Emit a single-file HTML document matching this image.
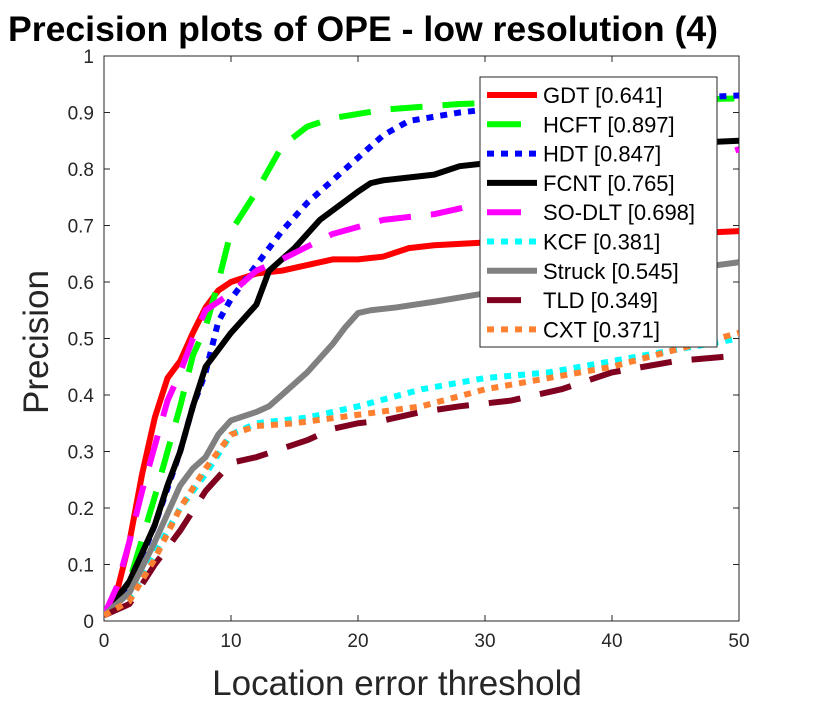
<!DOCTYPE html>
<html><head><meta charset="utf-8"><style>
html,body{margin:0;padding:0;background:#fff;}
svg{display:block;font-family:"Liberation Sans",sans-serif;}
</style></head><body>
<svg id="chart" width="830" height="705">
<text x="8" y="41" font-size="35" font-weight="bold" textLength="710" lengthAdjust="spacingAndGlyphs">Precision plots of OPE - low resolution (4)</text>
<text x="397" y="695" font-size="35" text-anchor="middle" fill="#262626">Location error threshold</text>
<text transform="translate(48,342) rotate(-90)" font-size="35" text-anchor="middle" fill="#262626">Precision</text>
<g id="plot"></g>
</svg>
<script>
const xTicks=[0,10,20,30,40,50];
const yTicks=[0,0.1,0.2,0.3,0.4,0.5,0.6,0.7,0.8,0.9,1];
const yTickLabels=["0","0.1","0.2","0.3","0.4","0.5","0.6","0.7","0.8","0.9","1"];
const names=["GDT [0.641]","HCFT [0.897]","HDT [0.847]","FCNT [0.765]","SO-DLT [0.698]","KCF [0.381]","Struck [0.545]","TLD [0.349]","CXT [0.371]"];
const gdtX=[0,1,2,3,4,5,6,7,8,9,10,12,14,16,18,20,22,24,26,30,35,40,45,50];
const gdtY=[0.01,0.05,0.14,0.26,0.36,0.43,0.46,0.51,0.555,0.585,0.6,0.615,0.62,0.63,0.64,0.64,0.645,0.66,0.665,0.67,0.675,0.68,0.685,0.69];
const hcftX=[0,2,4,6,7,8,9,10,12,14,16,18,22,28,35,40,50];
const hcftY=[0.01,0.07,0.22,0.38,0.47,0.52,0.6,0.69,0.76,0.84,0.875,0.89,0.905,0.915,0.92,0.92,0.925];
const hdtX=[0,2,4,6,7,8,9,10,12,14,16,18,20,22,24,28,32,40,50];
const hdtY=[0.01,0.06,0.17,0.3,0.38,0.44,0.53,0.57,0.63,0.69,0.74,0.78,0.82,0.86,0.885,0.9,0.91,0.92,0.93];
const fcntX=[0,2,4,5,6,7,8,10,12,13,15,17,20,21,22,24,26,28,30,35,40,45,50];
const fcntY=[0.01,0.07,0.17,0.24,0.3,0.38,0.45,0.51,0.56,0.62,0.66,0.71,0.76,0.775,0.78,0.785,0.79,0.805,0.81,0.82,0.83,0.845,0.85];
const sodltX=[0,1,2,3,4,5,6,7,8,10,12,14,18,22,26,30,35,40,45,50];
const sodltY=[0.01,0.06,0.14,0.23,0.31,0.39,0.44,0.5,0.55,0.58,0.62,0.64,0.685,0.71,0.72,0.74,0.75,0.77,0.8,0.835];
const kcfX=[0,2,4,6,8,10,12,14,16,20,25,30,35,40,45,50];
const kcfY=[0.01,0.04,0.12,0.2,0.26,0.33,0.35,0.355,0.36,0.38,0.41,0.43,0.44,0.46,0.48,0.5];
const struckX=[0,2,4,6,7,8,9,10,12,13,14,16,18,19,20,21,23,26,30,35,40,45,50];
const struckY=[0.01,0.05,0.14,0.24,0.27,0.29,0.33,0.355,0.37,0.38,0.4,0.44,0.49,0.52,0.545,0.55,0.555,0.565,0.58,0.595,0.605,0.62,0.635];
const tldX=[0,2,4,6,8,10,12,16,18,20,22,25,28,32,36,40,45,50];
const tldY=[0.01,0.03,0.1,0.16,0.23,0.28,0.29,0.32,0.34,0.35,0.355,0.37,0.38,0.39,0.41,0.44,0.46,0.47];
const cxtX=[0,2,4,6,8,10,12,15,20,25,30,35,40,45,50];
const cxtY=[0.01,0.035,0.11,0.2,0.27,0.33,0.345,0.35,0.365,0.38,0.41,0.43,0.45,0.48,0.51];

const series=[
 {n:"gdt",x:gdtX,y:gdtY,c:"#ff0000",d:""},
 {n:"hcft",x:hcftX,y:hcftY,c:"#00ff00",d:"32 20"},
 {n:"hdt",x:hdtX,y:hdtY,c:"#0000ff",d:"7 7"},
 {n:"fcnt",x:fcntX,y:fcntY,c:"#000000",d:""},
 {n:"sodlt",x:sodltX,y:sodltY,c:"#ff00ff",d:"32 20"},
 {n:"kcf",x:kcfX,y:kcfY,c:"#00ffff",d:"7 7"},
 {n:"struck",x:struckX,y:struckY,c:"#808080",d:""},
 {n:"tld",x:tldX,y:tldY,c:"#800020",d:"32 20"},
 {n:"cxt",x:cxtX,y:cxtY,c:"#ff8030",d:"7 7"}
];
const L=104,R=739,T=56,B=621;
const sx=v=>L+(v/50)*(R-L);
const sy=v=>B-v*(B-T);
const NS="http://www.w3.org/2000/svg";
const g=document.getElementById('plot');
function mk(t,a){const e=document.createElementNS(NS,t);for(const k in a)e.setAttribute(k,a[k]);g.appendChild(e);return e;}
const box=mk('rect',{x:L,y:T,width:R-L,height:B-T,fill:'none',stroke:'#262626','stroke-width':1});


xTicks.forEach(v=>{
 const x=sx(v);
 mk('line',{x1:x,y1:B,x2:x,y2:B-6,stroke:'#262626'});
 mk('line',{x1:x,y1:T,x2:x,y2:T+6,stroke:'#262626'});
 const t=mk('text',{x:x,y:B+26,'font-size':19,'text-anchor':'middle',fill:'#262626'});
 t.textContent=v;
 
 
});
yTicks.forEach((v,i)=>{
 const y=sy(v);
 mk('line',{x1:L,y1:y,x2:L+6,y2:y,stroke:'#262626'});
 mk('line',{x1:R,y1:y,x2:R-6,y2:y,stroke:'#262626'});
 const t=mk('text',{x:L-10,y:y+7,'font-size':19,'text-anchor':'end',fill:'#262626'});
 t.textContent=yTickLabels[i];
 
 
});
const clip=document.createElementNS(NS,'clipPath');clip.id='cp';
const cr=document.createElementNS(NS,'rect');cr.setAttribute('x',L);cr.setAttribute('y',T-4);cr.setAttribute('width',R-L);cr.setAttribute('height',B-T+8);
clip.appendChild(cr);g.appendChild(clip);
series.forEach(s=>{
 const pts=s.x.map((v,i)=>sx(v)+','+sy(s.y[i])).join(' ');
 const p=mk('polyline',{points:pts,fill:'none',stroke:s.c,'stroke-width':6,'stroke-dasharray':s.d,'stroke-linejoin':'round','clip-path':'url(#cp)'});
 
 
});
const lg=mk('rect',{x:480,y:77,width:237,height:270,fill:'#fff',stroke:'#262626','stroke-width':1});


series.forEach((s,i)=>{
 const y=95+i*29.3;
 mk('line',{x1:487,y1:y,x2:537,y2:y,stroke:s.c,'stroke-width':6,'stroke-dasharray':s.d==='7 7'?'7 7':(s.d?'34 100':'')});
 const t=mk('text',{x:543,y:y+8,'font-size':22,fill:'#000'});
 t.textContent=names[i];
 
 
});
</script>
</body></html>
